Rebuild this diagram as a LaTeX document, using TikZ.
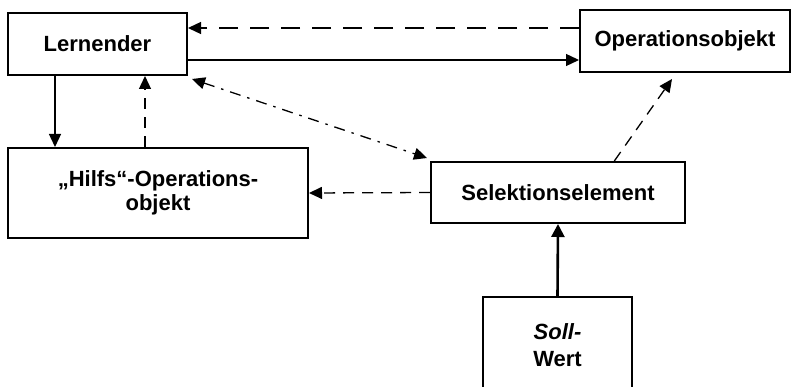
\documentclass[tikz,border=0pt]{standalone}
\usepackage{fontspec}
\setmainfont{Liberation Sans}
\usetikzlibrary{arrows.meta,calc}
\begin{document}
\begin{tikzpicture}[x=1pt,y=-1pt,
  box/.style={draw,line width=2pt,rectangle,inner sep=0pt,align=center,
    font=\fontsize{22}{24}\selectfont\bfseries},
  conn/.style={line width=1.3pt,-{Triangle[length=13pt,width=12pt]}},
  dsh/.style={dash pattern=on 11pt off 8pt},
  dshlong/.style={dash pattern=on 19pt off 12pt},
  dashdot/.style={dash pattern=on 11pt off 7pt on 2.5pt off 7pt}]
\useasboundingbox (0,0) rectangle (792,387);
\node[box,minimum width=179pt,minimum height=62pt] (lern) at (97.5,44) {Lernender};
\node[box,minimum width=210pt,minimum height=62pt] (op) at (685,41) {Operationsobjekt};
\node[box,minimum width=300pt,minimum height=90pt] (hilfs) at (158,193) {„Hilfs“-Operations-\\objekt};
\node[box,minimum width=254pt,minimum height=61pt] (sel) at (558,192.5) {Selektionselement};
\node[box,minimum width=149pt,minimum height=96pt] (soll) at (557.5,345) {\textit{Soll-}\\[3pt]Wert};
% connectors
\draw[conn,dshlong] (op.west |- 0,28) -- (lern.east |- 0,28);
\draw[conn] (lern.east |- 0,60) -- (op.west |- 0,60);
\draw[conn] (lern.south -| 55,0) -- (hilfs.north -| 55,0);
\draw[conn,dsh] (hilfs.north -| 145,0) -- (lern.south -| 145,0);
\draw[conn,dashdot,{Triangle[length=13pt,width=12pt]}-{Triangle[length=13pt,width=12pt]}] ($(lern.south east)+(4,3)$) -- ($(sel.north west)+(-3,-3)$);
\draw[conn,dsh] (sel.west) -- (hilfs.east);
\draw[conn,dsh] ($(sel.north west)!0.72!(sel.north east)$) -- ($(op.south)+(-13,6)$);
\draw[line width=2.6pt,-{Triangle[length=13pt,width=13pt]}] (soll.north) -- (sel.south);
\end{tikzpicture}
\end{document}
